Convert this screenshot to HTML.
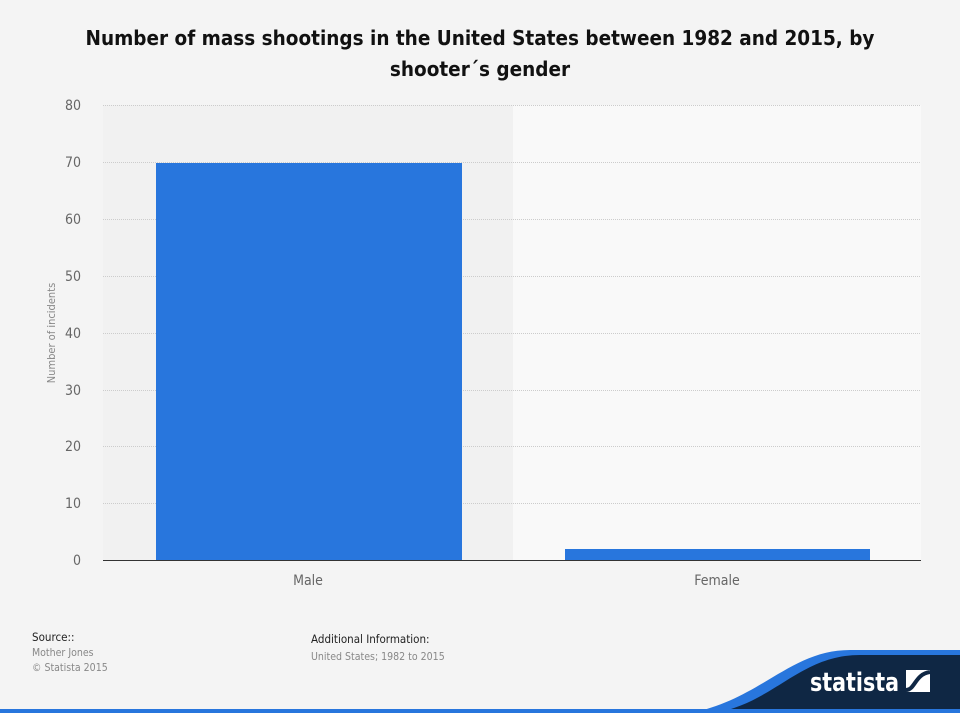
<!DOCTYPE html>
<html><head><meta charset="utf-8"><style>
body{margin:0;width:960px;height:713px;background:#f4f4f4;font-family:"DejaVu Sans","Liberation Sans",sans-serif;overflow:hidden;position:relative}
.t{position:absolute;left:0;width:960px;text-align:center;top:23px;font-size:20.5px;font-weight:bold;color:#111;line-height:31px;font-family:"DejaVu Sans Condensed","DejaVu Sans",sans-serif}
.s{position:absolute;font-size:11.5px;color:#222;font-family:"DejaVu Sans Condensed","DejaVu Sans",sans-serif}
.g{position:absolute;font-size:10.5px;color:#888;font-family:"DejaVu Sans Condensed","DejaVu Sans",sans-serif}
</style></head><body>
<div class="t">Number of mass shootings in the United States between 1982 and 2015, by<br>shooter´s gender</div>
<svg width="960" height="713" style="position:absolute;left:0;top:0">
<rect x="103" y="105" width="410" height="455" fill="#f1f1f1"/>
<rect x="513" y="105" width="408" height="455" fill="#f9f9f9"/>
<g stroke="#ccc" stroke-dasharray="1,1">
<line x1="103" x2="921" y1="105.5" y2="105.5"/><line x1="103" x2="921" y1="162.5" y2="162.5"/>
<line x1="103" x2="921" y1="219.5" y2="219.5"/><line x1="103" x2="921" y1="276.5" y2="276.5"/>
<line x1="103" x2="921" y1="333.5" y2="333.5"/><line x1="103" x2="921" y1="390.5" y2="390.5"/>
<line x1="103" x2="921" y1="446.5" y2="446.5"/><line x1="103" x2="921" y1="503.5" y2="503.5"/>
</g>
<rect x="156" y="163" width="306" height="397" fill="#2876dd"/>
<rect x="565" y="549" width="305" height="11" fill="#2876dd"/>
<line x1="103" x2="921" y1="560.5" y2="560.5" stroke="#333"/>
<g font-family="DejaVu Sans Condensed,DejaVu Sans,sans-serif" font-size="14" fill="#666" text-anchor="end">
<text x="81" y="110">80</text><text x="81" y="167">70</text><text x="81" y="224">60</text><text x="81" y="281">50</text>
<text x="81" y="338">40</text><text x="81" y="395">30</text><text x="81" y="451">20</text><text x="81" y="508">10</text><text x="81" y="565">0</text>
</g>
<g font-family="DejaVu Sans Condensed,DejaVu Sans,sans-serif" font-size="14" fill="#666" text-anchor="middle">
<text x="308" y="585">Male</text><text x="717" y="585">Female</text>
</g>
<text transform="translate(55,333) rotate(-90)" font-size="11" fill="#888" text-anchor="middle" font-family="DejaVu Sans Condensed,DejaVu Sans,sans-serif">Number of incidents</text>
<path d="M690 713 C760 700 790 650 850 650 L960 650 L960 713 Z" fill="#2876dd"/>
<path d="M715 713 C775 702 800 655 860 655 L960 655 L960 713 Z" fill="#0f2744"/>
<rect x="0" y="709" width="960" height="4" fill="#2876dd"/>
<text x="810" y="691" font-size="26" font-weight="bold" fill="#fff" font-family="DejaVu Sans Condensed,DejaVu Sans,sans-serif" textLength="89" lengthAdjust="spacingAndGlyphs">statista</text>
<rect x="906" y="670" width="24" height="22" fill="#fff"/>
<path d="M906 690 C915 690 915 674 930 672" stroke="#0f2744" stroke-width="4" fill="none"/>
</svg>
<div class="s" style="left:32px;top:630px">Source::</div>
<div class="g" style="left:32px;top:647px">Mother Jones</div>
<div class="g" style="left:32px;top:662px">© Statista 2015</div>
<div class="s" style="left:311px;top:632px">Additional Information:</div>
<div class="g" style="left:311px;top:651px">United States; 1982 to 2015</div>
</body></html>
